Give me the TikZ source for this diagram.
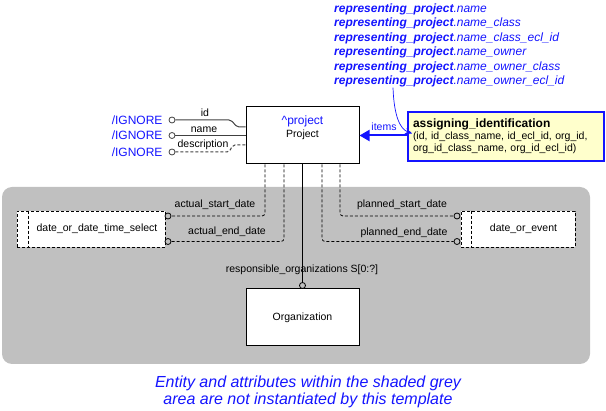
\documentclass[tikz,border=0pt]{standalone}
\usepackage{fontspec}
\setmainfont{Liberation Sans}
\usetikzlibrary{arrows.meta}
\definecolor{areagrey}{RGB}{192,192,192}
\definecolor{tblue}{RGB}{20,20,255}
\definecolor{note}{RGB}{255,255,204}
\definecolor{wire}{RGB}{64,64,64}

\begin{document}
\begin{tikzpicture}[x=1pt,y=-1pt,
    font=\fontsize{10.5}{12}\selectfont,
    ent/.style={rectangle,draw=black,line width=1pt,fill=white,minimum width=113pt,minimum height=57pt,inner sep=0pt},
    sel/.style={rectangle,draw=black,line width=0.8pt,dash pattern=on 3pt off 2pt,fill=white,minimum height=36pt,inner sep=0pt},
    attrc/.style={circle,draw=wire,line width=0.8pt,fill=white,minimum size=6pt,inner sep=0pt},
    wireline/.style={draw=wire,line width=1pt,rounded corners=2pt},
    optline/.style={draw=black,line width=0.8pt,dash pattern=on 3pt off 2pt,rounded corners=3pt},
    ign/.style={anchor=east,text=tblue,font=\fontsize{12}{14}\selectfont}]

      \useasboundingbox (0,0) rectangle (606,411);
      \fill[areagrey,rounded corners=10pt] (2,187) rectangle (590,364);

      \node[ent] (P) at (302.5,135.5){};
      \node[text=tblue,font=\fontsize{12}{14}\selectfont] at (302.5,121){\textasciicircum project};
      \node[] at (302.5,135){Project};

      \node[attrc] (idc) at (172,120){};
      \node[attrc] (namec) at (172,135.5){};
      \node[attrc] (descc) at (172,152){};
      \node[ign] at (166,120){/IGNORE};
      \node[ign] at (166,135.5){/IGNORE};
      \node[ign] at (166,152){/IGNORE};
      \node[] at (205,113){id};
      \node[] at (204,129.5){name};
      \node[] at (203,144.5){description};

      \draw[wireline] (idc) -- (231,120) -- (237,127) -- ([yshift=8.5pt]P.west);
      \draw[wireline] (namec) -- (namec -| P.west);
      \draw[wireline,dash pattern=on 3pt off 2pt] (descc) -- (229,152) -- (233,145) -- ([yshift=-9.5pt]P.west);

      \node[rectangle,draw=tblue,line width=1.8pt,fill=note,minimum width=196pt,minimum height=49pt,text width=186pt,inner sep=5pt,align=left] (ai) at (506,136.5){{\fontsize{12}{13}\selectfont\bfseries assigning\_identification}\\(id, id\_class\_name, id\_ecl\_id, org\_id,\\org\_id\_class\_name, org\_id\_ecl\_id)};
      \node[anchor=north west,align=left,inner sep=0pt,text=tblue,font=\fontsize{12}{14.5}\selectfont\itshape] (rep) at (334,3.5){\textbf{representing\_project}.name\\\textbf{representing\_project}.name\_class\\\textbf{representing\_project}.name\_class\_ecl\_id\\\textbf{representing\_project}.name\_owner\\\textbf{representing\_project}.name\_owner\_class\\\textbf{representing\_project}.name\_owner\_ecl\_id};

      \draw[tblue,line width=2pt,-{Triangle[length=10pt,width=11pt]}] (ai.west |- P.east) -- (P.east);
      \node[text=tblue] at (384,127){items};
      \draw[tblue,line width=0.7pt,-{Stealth[length=7pt,width=6pt]}] ([xshift=59pt]rep.south west) .. controls (394,116) and (400,129) .. ([shift={(5pt,3pt)}]ai.west);

      \node[sel,minimum width=148pt] (dodts) at (91,229){};
      \draw[draw=black,line width=0.8pt,dash pattern=on 3pt off 2pt] ([xshift=12pt]dodts.north west) -- ([xshift=12pt]dodts.south west);
      \node[] at ([xshift=6pt]dodts.center){date\_or\_date\_time\_select};
      \node[sel,minimum width=114pt] (doe) at (518,229){};
      \draw[draw=black,line width=0.8pt,dash pattern=on 3pt off 2pt] ([xshift=11pt]doe.north west) -- ([xshift=11pt]doe.south west);
      \node[] at ([xshift=5.5pt]doe.center){date\_or\_event};

      \node[attrc,draw=black,fill=areagrey] (asd) at (168,216){};
      \node[attrc,draw=black,fill=areagrey] (aed) at (168,241.5){};
      \node[attrc,draw=black,fill=areagrey] (psd) at (457,216){};
      \node[attrc,draw=black,fill=areagrey] (ped) at (457,241.5){};

      \draw[optline] ([xshift=-37.5pt]P.south) |- (asd);
      \draw[optline] ([xshift=-18.5pt]P.south) |- (aed);
      \draw[optline] ([xshift=37.5pt]P.south) |- (psd);
      \draw[optline] ([xshift=19.5pt]P.south) |- (ped);
      \node[] at (215,205){actual\_start\_date};
      \node[] at (227,232){actual\_end\_date};
      \node[] at (402,205){planned\_start\_date};
      \node[] at (404,233){planned\_end\_date};

      \node[ent] (O) at (302.5,317.5){Organization};
      \node[attrc,draw=black,fill=areagrey] (roc) at (302.5,285.5){};
      \draw[draw=black,line width=1pt] (P.south) -- (roc);
      \node[] at (302,270){responsible\_organizations S[0:?]};

      \node[align=center,text=tblue,font=\fontsize{16}{17}\selectfont\itshape] at (308,391.5){Entity and attributes within the shaded grey\\area are not instantiated by this template};

    \end{tikzpicture}
\end{document}
